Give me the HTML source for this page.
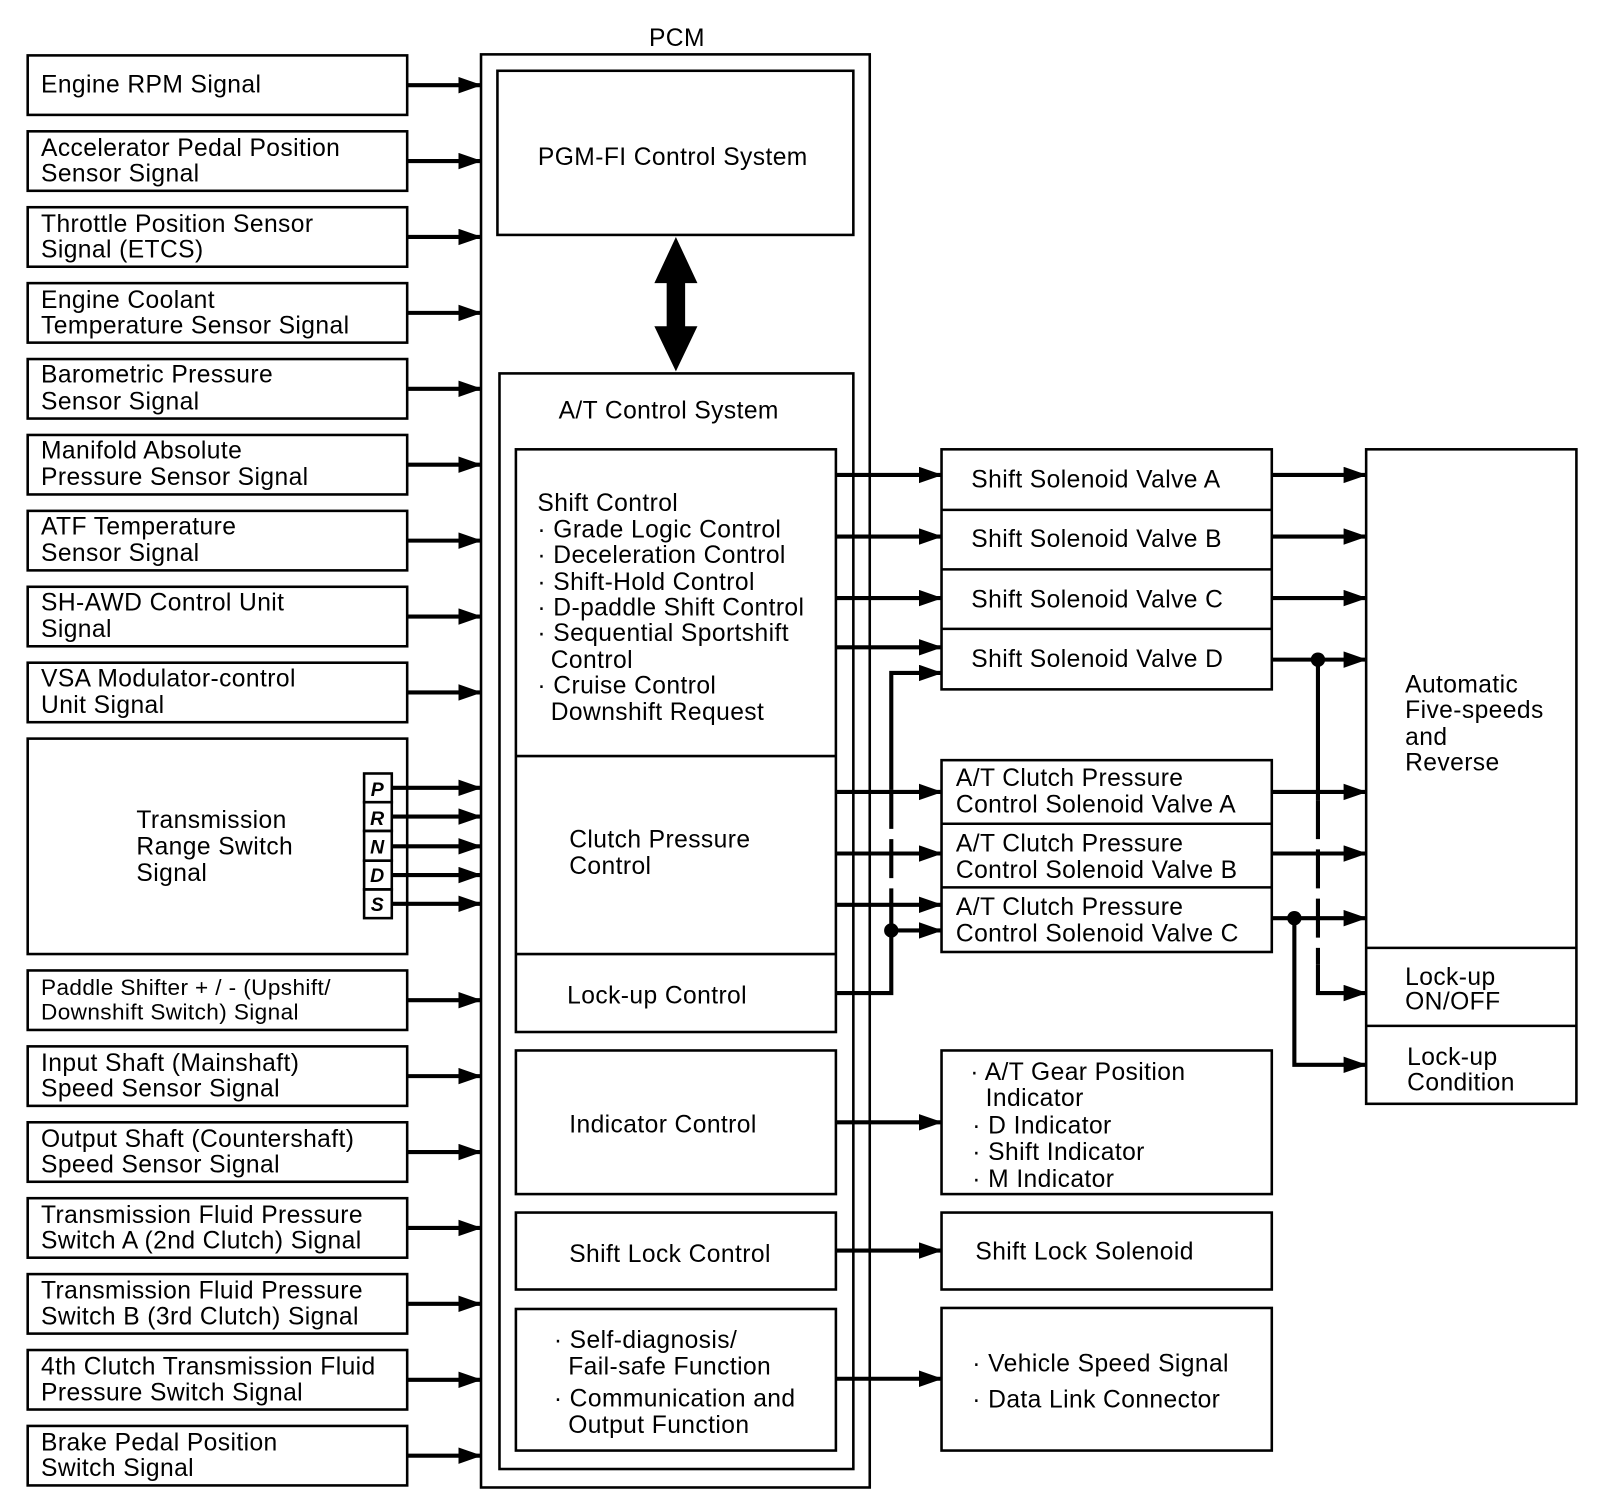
<!DOCTYPE html>
<html><head><meta charset="utf-8"><style>
html,body{margin:0;padding:0;background:#fff}
svg{display:block}
text{font-family:"Liberation Sans",Arial,sans-serif;font-size:24px;letter-spacing:0.4px;fill:#000}
</style></head><body>
<svg width="1600" height="1508" viewBox="0 0 1560 1470" preserveAspectRatio="none" xmlns="http://www.w3.org/2000/svg">
<defs>
<marker id="a" markerUnits="userSpaceOnUse" markerWidth="24" markerHeight="18" refX="22" refY="8" orient="auto"><path d="M0,0 L23,8 L0,16 z" fill="#000"/></marker>
</defs>
<g fill="none" stroke="#000" stroke-width="2.5">
<rect x="27" y="54" width="370" height="58"/>
<rect x="27" y="128" width="370" height="58"/>
<rect x="27" y="202" width="370" height="58"/>
<rect x="27" y="276" width="370" height="58"/>
<rect x="27" y="350" width="370" height="58"/>
<rect x="27" y="424" width="370" height="58"/>
<rect x="27" y="498" width="370" height="58"/>
<rect x="27" y="572" width="370" height="58"/>
<rect x="27" y="646" width="370" height="58"/>
<rect x="27" y="720" width="370" height="210"/>
<rect x="27" y="946" width="370" height="58"/>
<rect x="27" y="1020" width="370" height="58"/>
<rect x="27" y="1094" width="370" height="58"/>
<rect x="27" y="1168" width="370" height="58"/>
<rect x="27" y="1242" width="370" height="58"/>
<rect x="27" y="1316" width="370" height="58"/>
<rect x="27" y="1390" width="370" height="58"/>
<rect x="355" y="754" width="27" height="28"/>
<rect x="355" y="782" width="27" height="28"/>
<rect x="355" y="810" width="27" height="29"/>
<rect x="355" y="839" width="27" height="28"/>
<rect x="355" y="867" width="27" height="28"/>
<rect x="469" y="53" width="379" height="1397"/>
<rect x="485" y="69" width="347" height="160"/>
<rect x="487" y="364" width="345" height="1068"/>
<rect x="503" y="438" width="312" height="568"/>
<line x1="503" y1="737" x2="815" y2="737"/>
<line x1="503" y1="930" x2="815" y2="930"/>
<rect x="503" y="1024" width="312" height="140"/>
<rect x="503" y="1182" width="312" height="75"/>
<rect x="503" y="1276" width="312" height="138"/>
<rect x="918" y="438" width="322" height="234"/>
<line x1="918" y1="497" x2="1240" y2="497"/>
<line x1="918" y1="555" x2="1240" y2="555"/>
<line x1="918" y1="613" x2="1240" y2="613"/>
<rect x="918" y="741" width="322" height="187"/>
<line x1="918" y1="803" x2="1240" y2="803"/>
<line x1="918" y1="865" x2="1240" y2="865"/>
<rect x="918" y="1024" width="322" height="140"/>
<rect x="918" y="1182" width="322" height="75"/>
<rect x="918" y="1275" width="322" height="139"/>
<rect x="1332" y="438" width="205" height="638"/>
<line x1="1332" y1="924" x2="1537" y2="924"/>
<line x1="1332" y1="1000" x2="1537" y2="1000"/>
</g>
<g stroke="#000" stroke-width="4" fill="none" marker-end="url(#a)">
<line x1="397" y1="83" x2="469" y2="83"/>
<line x1="397" y1="157" x2="469" y2="157"/>
<line x1="397" y1="231" x2="469" y2="231"/>
<line x1="397" y1="305" x2="469" y2="305"/>
<line x1="397" y1="379" x2="469" y2="379"/>
<line x1="397" y1="453" x2="469" y2="453"/>
<line x1="397" y1="527" x2="469" y2="527"/>
<line x1="397" y1="601" x2="469" y2="601"/>
<line x1="397" y1="675" x2="469" y2="675"/>
<line x1="382" y1="768" x2="469" y2="768"/>
<line x1="382" y1="796" x2="469" y2="796"/>
<line x1="382" y1="825" x2="469" y2="825"/>
<line x1="382" y1="853" x2="469" y2="853"/>
<line x1="382" y1="881" x2="469" y2="881"/>
<line x1="397" y1="975" x2="469" y2="975"/>
<line x1="397" y1="1049" x2="469" y2="1049"/>
<line x1="397" y1="1123" x2="469" y2="1123"/>
<line x1="397" y1="1197" x2="469" y2="1197"/>
<line x1="397" y1="1271" x2="469" y2="1271"/>
<line x1="397" y1="1345" x2="469" y2="1345"/>
<line x1="397" y1="1419" x2="469" y2="1419"/>
<line x1="815" y1="463" x2="918" y2="463"/>
<line x1="815" y1="523" x2="918" y2="523"/>
<line x1="815" y1="583" x2="918" y2="583"/>
<line x1="815" y1="631" x2="918" y2="631"/>
<polyline points="869,770 869,656 918,656"/>
<line x1="815" y1="772" x2="918" y2="772"/>
<line x1="815" y1="832" x2="918" y2="832"/>
<line x1="815" y1="882" x2="918" y2="882"/>
<line x1="869" y1="907" x2="918" y2="907"/>
<line x1="815" y1="1094" x2="918" y2="1094"/>
<line x1="815" y1="1219" x2="918" y2="1219"/>
<line x1="815" y1="1344" x2="918" y2="1344"/>
<line x1="1240" y1="463" x2="1332" y2="463"/>
<line x1="1240" y1="523" x2="1332" y2="523"/>
<line x1="1240" y1="583" x2="1332" y2="583"/>
<line x1="1240" y1="643" x2="1332" y2="643"/>
<line x1="1240" y1="772" x2="1332" y2="772"/>
<line x1="1240" y1="832" x2="1332" y2="832"/>
<line x1="1240" y1="895" x2="1332" y2="895"/>
<polyline points="1285,940 1285,968 1332,968"/>
<polyline points="1262,895 1262,1038 1332,1038"/>
</g>
<g stroke="#000" stroke-width="4" fill="none">
<polyline points="815,968 869,968 869,907"/>
<line x1="869" y1="770" x2="869" y2="907" stroke-dasharray="38,10"/>
<line x1="1285" y1="643" x2="1285" y2="780"/>
<line x1="1285" y1="780" x2="1285" y2="940" stroke-dasharray="38,10"/>
</g>
<circle cx="869" cy="907" r="7"/>
<circle cx="1285" cy="643" r="7"/>
<circle cx="1262" cy="895" r="7"/>
<path d="M659,231 L680,276 L668,276 L668,318 L680,318 L659,362 L638,318 L650,318 L650,276 L638,276 z" fill="#000"/>
<text x="40" y="90">Engine RPM Signal</text>
<text x="40" y="152">Accelerator Pedal Position</text><text x="40" y="177">Sensor Signal</text>
<text x="40" y="226">Throttle Position Sensor</text><text x="40" y="251">Signal (ETCS)</text>
<text x="40" y="300">Engine Coolant</text><text x="40" y="325">Temperature Sensor Signal</text>
<text x="40" y="373">Barometric Pressure</text><text x="40" y="399">Sensor Signal</text>
<text x="40" y="447">Manifold Absolute</text><text x="40" y="473">Pressure Sensor Signal</text>
<text x="40" y="521">ATF Temperature</text><text x="40" y="547">Sensor Signal</text>
<text x="40" y="595">SH-AWD Control Unit</text><text x="40" y="621">Signal</text>
<text x="40" y="669">VSA Modulator-control</text><text x="40" y="695">Unit Signal</text>
<text x="133" y="807">Transmission</text><text x="133" y="833">Range Switch</text><text x="133" y="859">Signal</text>
<g font-weight="bold" font-style="italic" text-anchor="middle"><text x="368" y="776" style="font-size:19px">P</text><text x="368" y="804" style="font-size:19px">R</text><text x="368" y="832" style="font-size:19px">N</text><text x="368" y="860" style="font-size:19px">D</text><text x="368" y="888" style="font-size:19px">S</text></g>
<text x="40" y="970" style="font-size:22px">Paddle Shifter  +  /  -  (Upshift/</text><text x="40" y="994" style="font-size:22px">Downshift Switch) Signal</text>
<text x="40" y="1044">Input Shaft (Mainshaft)</text><text x="40" y="1069">Speed Sensor Signal</text>
<text x="40" y="1118">Output Shaft (Countershaft)</text><text x="40" y="1143">Speed Sensor Signal</text>
<text x="40" y="1192">Transmission Fluid Pressure</text><text x="40" y="1217">Switch A (2nd Clutch) Signal</text>
<text x="40" y="1266">Transmission Fluid Pressure</text><text x="40" y="1291">Switch B (3rd Clutch) Signal</text>
<text x="40" y="1340">4th Clutch Transmission Fluid</text><text x="40" y="1365">Pressure Switch Signal</text>
<text x="40" y="1414">Brake Pedal Position</text><text x="40" y="1439">Switch Signal</text>
<text x="660" y="45" text-anchor="middle">PCM</text>
<text x="656" y="161" text-anchor="middle">PGM-FI Control System</text>
<text x="652" y="408" text-anchor="middle">A/T Control System</text>
<text x="524" y="498">Shift Control</text>
<text x="524" y="524">· Grade Logic Control</text>
<text x="524" y="549">· Deceleration Control</text>
<text x="524" y="575">· Shift-Hold Control</text>
<text x="524" y="600">· D-paddle Shift Control</text>
<text x="524" y="625">· Sequential Sportshift</text>
<text x="537" y="651">Control</text>
<text x="524" y="676">· Cruise Control</text>
<text x="537" y="702">Downshift Request</text>
<text x="555" y="826">Clutch Pressure</text><text x="555" y="852">Control</text>
<text x="553" y="978">Lock-up Control</text>
<text x="555" y="1104">Indicator Control</text>
<text x="555" y="1230">Shift Lock Control</text>
<text x="540" y="1314">· Self-diagnosis/</text><text x="554" y="1340">Fail-safe Function</text>
<text x="540" y="1371">· Communication and</text><text x="554" y="1397">Output Function</text>
<text x="947" y="475">Shift Solenoid Valve A</text>
<text x="947" y="533">Shift Solenoid Valve B</text>
<text x="947" y="592">Shift Solenoid Valve C</text>
<text x="947" y="650">Shift Solenoid Valve D</text>
<text x="932" y="766">A/T Clutch Pressure</text><text x="932" y="792">Control Solenoid Valve A</text>
<text x="932" y="830">A/T Clutch Pressure</text><text x="932" y="856">Control Solenoid Valve B</text>
<text x="932" y="892">A/T Clutch Pressure</text><text x="932" y="918">Control Solenoid Valve C</text>
<text x="946" y="1053">· A/T Gear Position</text><text x="961" y="1078">Indicator</text>
<text x="948" y="1105">· D Indicator</text><text x="948" y="1131">· Shift Indicator</text><text x="948" y="1157">· M Indicator</text>
<text x="951" y="1228">Shift Lock Solenoid</text>
<text x="948" y="1337">· Vehicle Speed Signal</text>
<text x="948" y="1372">· Data Link Connector</text>
<text x="1370" y="675">Automatic</text><text x="1370" y="700">Five-speeds</text><text x="1370" y="726">and</text><text x="1370" y="751">Reverse</text>
<text x="1370" y="960">Lock-up</text><text x="1370" y="984">ON/OFF</text>
<text x="1372" y="1038">Lock-up</text><text x="1372" y="1063">Condition</text>
</svg>
</body></html>
